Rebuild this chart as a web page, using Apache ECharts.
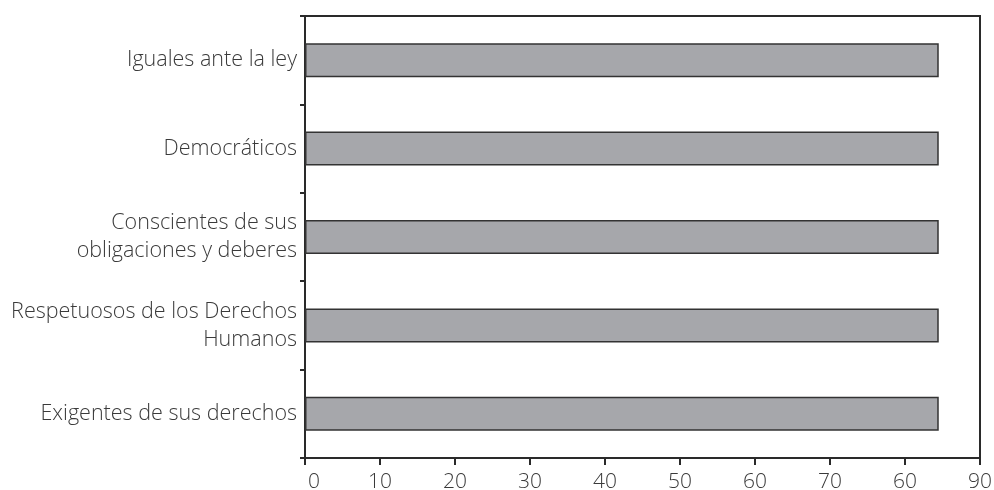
<!DOCTYPE html>
<html>
<head>
<meta charset="utf-8">
<script src="https://cdn.jsdelivr.net/npm/echarts@6/dist/echarts.min.js"></script>
<style>html,body{margin:0;padding:0;background:#fff}#c{width:994px;height:490px}</style>
</head>
<body>
<div id="c"></div>
<script>
var categories = [
  'Iguales ante la ley',
  'Democráticos',
  'Conscientes de sus\nobligaciones y deberes',
  'Respetuosos de los Derechos\nHumanos',
  'Exigentes de sus derechos'
];
var values = [84.5, 84.5, 84.5, 84.5, 84.5];
var xTickLabels = ['0', '10', '20', '30', '40', '50', '60', '70', '60', '90'];

var chart = echarts.init(document.getElementById('c'));
var font = "'Open Sans', 'Noto Sans', sans-serif";
chart.setOption({
  animation: false,
  backgroundColor: '#fff',
  grid: { left: 305, right: 14, top: 16, bottom: 32, show: true, borderColor: '#2a2a2a', borderWidth: 2, outerBoundsMode: 'none', containLabel: false },
  xAxis: {
    type: 'value', min: 0, max: 90, interval: 10,
    axisLine: { show: true, lineStyle: { color: '#2a2a2a', width: 2 } },
    axisTick: { show: true, length: 7, lineStyle: { color: '#2a2a2a', width: 2 } },
    splitLine: { show: false },
    axisLabel: {
      margin: 14, fontSize: 21, color: '#3a3a3a', fontFamily: font, fontWeight: 300,
      formatter: function (v) {
        var s = xTickLabels[Math.round(v / 10)];
        return v === 0 ? '{z|' + s + '}' : s;
      },
      rich: { z: { padding: [0, 0, 0, 18], fontSize: 21, color: '#3a3a3a', fontFamily: font, fontWeight: 300 } }
    }
  },
  yAxis: {
    type: 'category', inverse: true, data: categories,
    axisLine: { show: true, lineStyle: { color: '#2a2a2a', width: 2 } },
    axisTick: { show: true, length: 5, lineStyle: { color: '#2a2a2a', width: 2 } },
    axisLabel: { margin: 8, fontSize: 21.5, lineHeight: 28, color: '#3a3a3a', fontFamily: font, fontWeight: 300, align: 'right' }
  },
  series: [{
    type: 'bar', data: values, barWidth: 34,
    itemStyle: { color: '#a6a7ab', borderColor: '#333', borderWidth: 1.5 }
  }]
});
</script>
</body>
</html>
